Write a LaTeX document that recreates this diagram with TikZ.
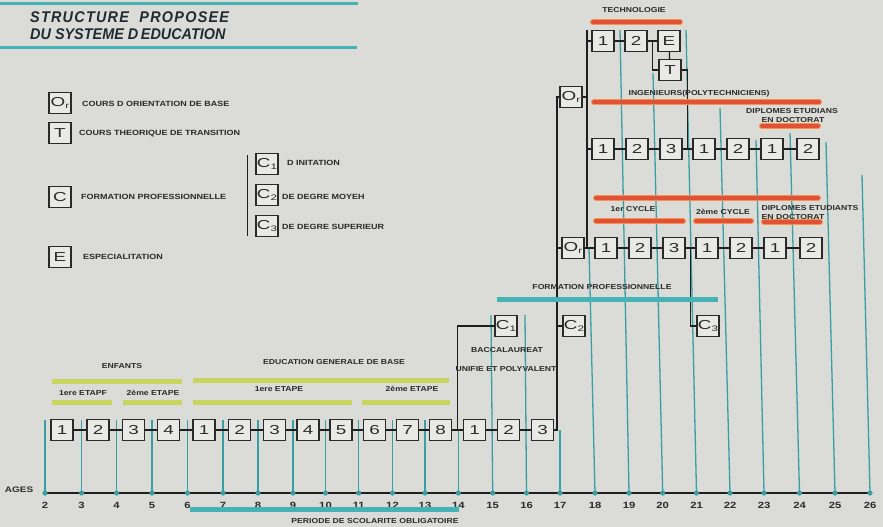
\documentclass[tikz,border=0pt]{standalone}
\usepackage{fontspec}
\setmainfont{Liberation Sans}
\newfontfamily\lblfont[FakeStretch=1.2]{Liberation Sans}
\newfontfamily\numfont[FakeStretch=1.25]{Liberation Sans}
\newfontfamily\digfont[FakeStretch=1.45]{Liberation Sans}
\newfontfamily\ttlfont[FakeStretch=0.93]{Liberation Sans}
\newfontfamily\ttlfontwide[FakeStretch=0.93,LetterSpace=8]{Liberation Sans}
\usetikzlibrary{calc}
\definecolor{bgc}{HTML}{DBDCD7}
\definecolor{tealL}{HTML}{3A9FA5}
\definecolor{tealB}{HTML}{45B3B5}
\definecolor{greenB}{HTML}{C8D55E}
\definecolor{redB}{HTML}{E2503A}
\definecolor{orangeB}{HTML}{F2954A}
\definecolor{blk}{HTML}{1E1E1E}
\definecolor{boxline}{HTML}{2A2A2A}
\definecolor{boxfill}{HTML}{E9E9E5}
\definecolor{txt}{HTML}{2A2A2A}
\definecolor{ttlc}{HTML}{1F2A33}
\newcommand{\subl}[1]{\raisebox{-2pt}{\fontsize{8}{8}\selectfont #1}}
\begin{document}
\begin{tikzpicture}[x=1pt,y=-1pt,
  bx/.style={draw=boxline, line width=1.1pt, fill=boxfill, minimum width=22pt, minimum height=21pt, inner sep=0pt, font=\digfont\fontsize{13}{13}\selectfont, text=txt},
  lnk/.style={draw=blk, line width=1.3pt},
  gridl/.style={draw=tealL, line width=1.3pt},
  gbar/.style={draw=greenB, line width=5pt},
  tbar/.style={draw=tealB, line width=5pt},
  rbar/.style={draw=redB, line width=4pt, line cap=round, preaction={draw=orangeB, line width=6pt, line cap=round}},
  lbl/.style={font=\lblfont\bfseries\fontsize{7.2}{8.5}\selectfont, text=txt, inner sep=0pt},
  leg/.style={font=\lblfont\bfseries\fontsize{7.5}{9}\selectfont, text=txt, inner sep=0pt, anchor=west},
  num/.style={font=\numfont\bfseries\fontsize{9}{9}\selectfont, text=txt, inner sep=0pt},
  ttl/.style={anchor=west, inner sep=0pt, text=ttlc},
]
\useasboundingbox (0,0) rectangle (883,527);
\fill[bgc] (0,0) rectangle (883,527);

% ---------- title ----------
\draw[tealB, line width=3pt] (0,3.5) -- (358,3.5);
\draw[tealB, line width=3pt] (0,48) -- (357,48);
\node[ttl, font=\ttlfontwide\bfseries\itshape\fontsize{15.5}{16}\selectfont] (ttl1) at (30,17) {STRUCTURE\ \ PROPOSEE};
\node[ttl, font=\ttlfont\bfseries\itshape\fontsize{15.5}{16}\selectfont] (ttl2) at (30,34) {DU SYSTEME D\,EDUCATION};

% ---------- legend ----------
\node[bx] (kO) at (60,103) {O\subl{r}};
\node[leg] (kOt) at (82,104) {COURS D ORIENTATION DE BASE};
\node[bx] (kT) at (60,133) {T};
\node[leg] (kTt) at (79,134) {COURS THEORIQUE DE TRANSITION};
\node[bx] (kC) at (60,197) {C};
\node[leg] (kCt) at (81,197) {FORMATION PROFESSIONNELLE};
\node[bx] (kE) at (60,257) {E};
\node[leg] (kEt) at (83,257) {ESPECIALITATION};
\coordinate (kbt) at (247,155);
\coordinate (kbb) at (247,236);
\draw[blk, line width=1pt] (kbt) -- (kbb);
\node[bx] (kC1) at (267,164) {C\subl{1}};
\node[leg] (kC1t) at (287,163) {D INITATION};
\node[bx] (kC2) at (267,195) {C\subl{2}};
\node[leg] (kC2t) at (282,197) {DE DEGRE MOYEH};
\node[bx] (kC3) at (267,226) {C\subl{3}};
\node[leg] (kC3t) at (282,227) {DE DEGRE SUPERIEUR};

% ---------- axis coordinates and labels ----------
\foreach \x [count=\i from 2] in {45,81.6,116.6,152,187.5,223,258,293,325.5,358.7,392.5,425,458.3,492.7,526.5,560,595,629,662.7,696.5,730,764,799.5,835,870} {
  \coordinate (a\i) at (\x,493);
  \node[num] (n\i) at (\x,505) {\i};
}
\node[num, font=\numfont\bfseries\fontsize{8}{8}\selectfont] (ages) at (19,490) {AGES};

% ---------- teal grid lines ----------
\foreach \i in {2,...,13} { \draw[gridl] (a\i) -- ++(0,-73); }
\draw[gridl] (a14) -- ++(0,-63);
\draw[gridl] (a17) -- ++(0,-63);
\coordinate (g15) at (491,315);
\coordinate (g16) at (525,315);
\coordinate (g18) at (589,248);
\coordinate (g19) at (620,30);
\coordinate (g20) at (653,73);
\coordinate (g21) at (686,30);
\coordinate (g22) at (720,108);
\coordinate (g23) at (756,140);
\coordinate (g24) at (790,133);
\coordinate (g25) at (826,142);
\coordinate (g26) at (862,175);
\foreach \i in {15,16,18,19,20,21,22,23,24,25,26} { \draw[gridl] (a\i) -- (g\i); }

% axis
\draw[blk, line width=2pt] (a2) -- (a26);
\foreach \i in {2,...,26} { \fill[tealL] (a\i) circle (2.6pt); }

% ---------- bottom row boxes ----------
\foreach \nm/\x/\t in {e1/62/1,e2/98/2,e3/133.5/3,e4/168.5/4,g1/204/1,g2/239.5/2,g3/274.5/3,g4/308/4,g5/341/5,g6/374.5/6,g7/407.5/7,g8/440.5/8,b1/474.5/1,b2/508.5/2,b3/542.5/3} {
  \node[bx] (\nm) at (\x,430) {\t};
}
\node[bx] (c1) at (506,326) {C\subl{1}};
\node[bx] (c2) at (574,326) {C\subl{2}};
\node[bx] (c3) at (708,326) {C\subl{3}};

% ---------- upper boxes ----------
\node[bx] (orA) at (571,97) {O\subl{r}};
\node[bx] (orB) at (573,248) {O\subl{r}};
\node[bx] (t1) at (603,41) {1};
\node[bx] (t2) at (636,41) {2};
\node[bx] (tE) at (669,41) {E};
\node[bx] (tT) at (670,70) {T};
\foreach \nm/\x/\t in {m1/603/1,m2/637/2,m3/671/3,m4/704/1,m5/738/2,m6/772/1,m7/808/2} {
  \node[bx] (\nm) at (\x,149) {\t};
}
\foreach \nm/\x/\t in {l1/606/1,l2/640/2,l3/674/3,l4/707/1,l5/741/2,l6/775/1,l7/811/2} {
  \node[bx] (\nm) at (\x,248) {\t};
}

% ---------- black connectors ----------
\draw[lnk] (e1) -- (e2) -- (e3) -- (e4) -- (g1) -- (g2) -- (g3) -- (g4) -- (g5) -- (g6) -- (g7) -- (g8) -- (b1) -- (b2) -- (b3);
\coordinate (j14) at ($(g8.east)!0.5!(b1.west)$);
\draw[lnk] (j14) |- (c1.west);
\coordinate (j17) at (557,430);
\draw[lnk] (b3.east) -- (j17) -- (j17 |- orA.west) -- (orA.west);
\draw[lnk] (j17 |- c2.west) -- (c2.west);
\draw[lnk] (j17 |- orB.west) -- (orB.west);
\coordinate (j18) at (587,30);
\draw[lnk] (j18) -- (j18 |- orB.east);
\draw[lnk] (orA.east) -- (orA.east -| j18);
\draw[lnk] (j18 |- t1.west) -- (t1.west);
\draw[lnk] (j18 |- m1.west) -- (m1.west);
\draw[lnk] (t1) -- (t2) -- (tE);
\draw[lnk] (tE) -- (tT);
\coordinate (j2E) at ($(t2.east)!0.5!(tE.west)$);
\draw[lnk] (j2E) |- (tT.west);
\coordinate (jm34) at ($(m3.east)!0.5!(m4.west)$);
\draw[lnk] (tT.east) -| (jm34);
\draw[lnk] (m1) -- (m2) -- (m3) -- (m4) -- (m5) -- (m6) -- (m7);
\draw[lnk] (orB) -- (l1) -- (l2) -- (l3) -- (l4) -- (l5) -- (l6) -- (l7);
\coordinate (jl34) at ($(l3.east)!0.5!(l4.west)$);
\draw[lnk] (jl34) |- (c3.west);

% ---------- bars ----------
\draw[tbar] (497,299) -- (718,299);
\draw[tbar] (190,509) -- (459,509);
\draw[gbar] (52,381) -- (182,381);
\draw[gbar] (52,402) -- (112,402);
\draw[gbar] (123,402) -- (182,402);
\draw[gbar] (193,380) -- (449,380);
\draw[gbar] (193,402) -- (352,402);
\draw[gbar] (362,402) -- (450,402);
\draw[rbar] (593,22) -- (680,22);
\draw[rbar] (594,102) -- (819,102);
\draw[rbar] (762,126) -- (818,126);
\draw[rbar] (596,198) -- (818,198);
\draw[rbar] (596,221) -- (683,221);
\draw[rbar] (696,221) -- (751,221);
\draw[rbar] (764,222) -- (820,222);

% ---------- labels ----------
\node[lbl] (lTech) at (634,10) {TECHNOLOGIE};
\node[lbl] (lIng) at (699,94) {INGENIEURS(POLYTECHNICIENS)};
\node[lbl] (lDip1a) at (792,111) {DIPLOMES ETUDIANS};
\node[lbl] (lDip1b) at (793,120) {EN DOCTORAT};
\node[lbl] (lCyc1) at (633,209) {1er CYCLE};
\node[lbl] (lCyc2) at (723,212) {2ème CYCLE};
\node[lbl] (lDip2a) at (810,208) {DIPLOMES ETUDIANTS};
\node[lbl] (lDip2b) at (793,217) {EN DOCTORAT};
\node[lbl] (lForm) at (602,287) {FORMATION PROFESSIONNELLE};
\node[lbl] (lBac1) at (507,350) {BACCALAUREAT};
\node[lbl] (lBac2) at (506,369) {UNIFIE ET POLYVALENT};
\node[lbl] (lEnf) at (122,366) {ENFANTS};
\node[lbl] (lEnf1) at (83,393) {1ere ETAPF};
\node[lbl] (lEnf2) at (153,393) {2ème ETAPE};
\node[lbl] (lEdu) at (334,362) {EDUCATION GENERALE DE BASE};
\node[lbl] (lEdu1) at (279,389) {1ere ETAPE};
\node[lbl] (lEdu2) at (412,389) {2ème ETAPE};
\node[lbl] (lPer) at (375,521) {PERIODE DE SCOLARITE OBLIGATOIRE};
\end{tikzpicture}
\end{document}
